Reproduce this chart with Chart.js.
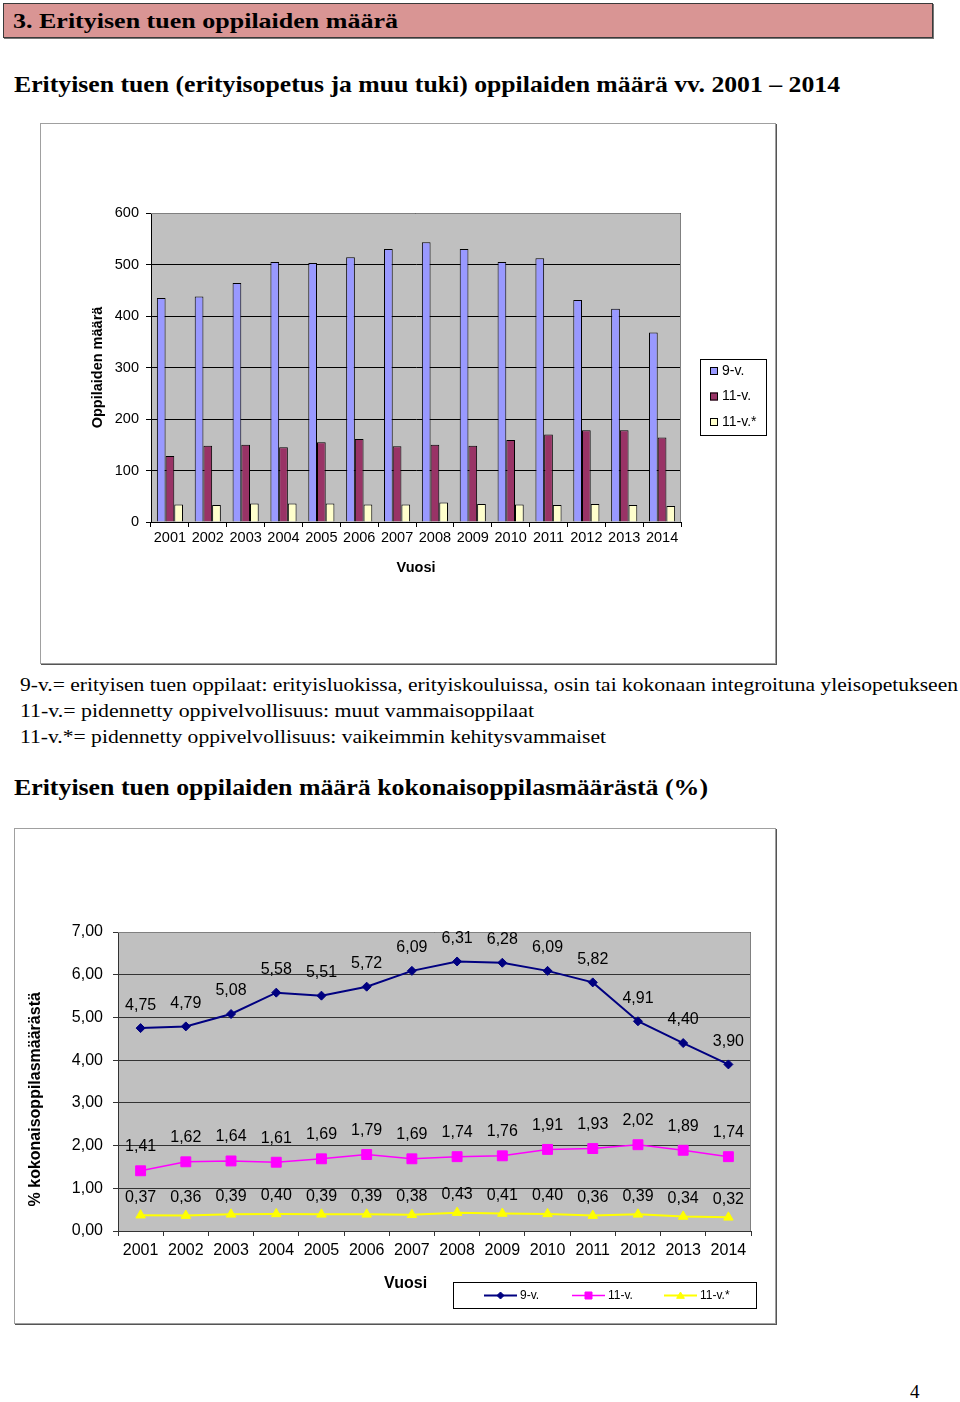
<!DOCTYPE html>
<html><head><meta charset="utf-8">
<script src="https://cdn.jsdelivr.net/npm/chart.js@4.4.1/dist/chart.umd.min.js"></script>
<style>
html,body{margin:0;padding:0;background:#fff;}
body{width:960px;height:1402px;position:relative;overflow:hidden;font-family:"Liberation Serif","DejaVu Serif",serif;color:#000;}
.t{position:absolute;white-space:nowrap;line-height:1.2;transform-origin:0 50%;}
#hdr{position:absolute;left:3px;top:3px;width:928px;height:33px;background:#d99594;border:1px solid #3a3a3a;box-shadow:1px 1px 0 #777;}
.box{position:absolute;background:#fff;border:1px solid #a0a0a0;box-shadow:1px 1px 0 #555;}
canvas{position:absolute;display:block;}
</style></head>
<body>
<div id="hdr"></div>
<div class="t" data-w="385" data-b="29.5" data-fs="21.5" style="left:13px;font-weight:bold">3. Erityisen tuen oppilaiden määrä</div>
<div class="t" data-w="826" data-b="92" data-fs="24" style="left:14px;font-weight:bold">Erityisen tuen (erityisopetus ja muu tuki) oppilaiden määrä vv. 2001 – 2014</div>

<div class="box" style="left:40px;top:123px;width:734px;height:539px;"></div>
<canvas id="c1" width="736" height="541" style="left:40px;top:123px;width:736px;height:541px;"></canvas>

<div class="t" data-w="938" data-b="691.5" data-fs="19" style="left:20px;">9-v.= erityisen tuen oppilaat: erityisluokissa, erityiskouluissa, osin tai kokonaan integroituna yleisopetukseen</div>
<div class="t" data-w="514" data-b="717.5" data-fs="19" style="left:20px;">11-v.= pidennetty oppivelvollisuus: muut vammaisoppilaat</div>
<div class="t" data-w="586" data-b="743.5" data-fs="19" style="left:20px;">11-v.*= pidennetty oppivelvollisuus: vaikeimmin kehitysvammaiset</div>
<div class="t" data-w="694" data-b="795" data-fs="24" style="left:14px;font-weight:bold">Erityisen tuen oppilaiden määrä kokonaisoppilasmäärästä (%)</div>

<div class="box" style="left:14px;top:828px;width:760px;height:494px;"></div>
<canvas id="c2" width="762" height="496" style="left:14px;top:828px;width:762px;height:496px;"></canvas>

<div class="t" data-b="1399" data-fs="19" style="left:910px;">4</div>

<script>
// ---------- DATA ----------
const years = ['2001','2002','2003','2004','2005','2006','2007','2008','2009','2010','2011','2012','2013','2014'];
const seriesNames = ['9-v.', '11-v.', '11-v.*'];
// Chart 1: number of pupils
const countV9   = [435, 438, 464, 505, 503, 514, 530, 543, 530, 505, 512, 431, 414, 368];
const countV11  = [128, 148, 150, 145, 155, 161, 147, 150, 148, 159, 170, 178, 178, 164];
const countV11s = [34, 33, 36, 36, 36, 34, 34, 38, 35, 34, 33, 35, 33, 31];
const countTicks = [0, 100, 200, 300, 400, 500, 600];
// Chart 2: % of all pupils
const pctV9   = [4.75, 4.79, 5.08, 5.58, 5.51, 5.72, 6.09, 6.31, 6.28, 6.09, 5.82, 4.91, 4.40, 3.90];
const pctV11  = [1.41, 1.62, 1.64, 1.61, 1.69, 1.79, 1.69, 1.74, 1.76, 1.91, 1.93, 2.02, 1.89, 1.74];
const pctV11s = [0.37, 0.36, 0.39, 0.40, 0.39, 0.39, 0.38, 0.43, 0.41, 0.40, 0.36, 0.39, 0.34, 0.32];
const pctTicks = [0, 1, 2, 3, 4, 5, 6, 7];

// ---------- text fitting (keep height, squeeze width) ----------
document.querySelectorAll('.t').forEach(el => {
  const fs = parseFloat(el.dataset.fs);
  el.style.fontSize = fs + 'px';
  const w = parseFloat(el.dataset.w || '0');
  if (w) {
    const cw = el.getBoundingClientRect().width;
    el.style.transform = 'scaleX(' + (w / cw) + ')';
  }
  el.style.top = (parseFloat(el.dataset.b) - 0.9375 * fs) + 'px';
});

const SANS = '"Liberation Sans", Arial, sans-serif';
const fmt = v => v.toFixed(2).replace('.', ',');

function marker(ctx, style, x, y, r, fill) {
  ctx.save();
  ctx.fillStyle = fill; ctx.strokeStyle = fill; ctx.lineWidth = 1;
  ctx.beginPath();
  if (style === 'rectRot') {
    ctx.moveTo(x - r, y); ctx.lineTo(x, y - r); ctx.lineTo(x + r, y); ctx.lineTo(x, y + r);
  } else if (style === 'rect') {
    ctx.rect(x - r, y - r, 2 * r, 2 * r);
  } else {
    ctx.moveTo(x, y - r); ctx.lineTo(x + r * 1.1, y + r * 0.8); ctx.lineTo(x - r * 1.1, y + r * 0.8);
  }
  ctx.closePath(); ctx.fill(); ctx.stroke();
  ctx.restore();
}

// ---------- plugins ----------
const plotBg = {
  id: 'plotBg',
  beforeDraw(chart, args, o) {
    const {ctx, chartArea: a} = chart;
    ctx.save();
    ctx.fillStyle = o.color;
    ctx.fillRect(a.left, a.top, a.right - a.left, a.bottom - a.top);
    ctx.restore();
  },
  beforeDatasetsDraw(chart, args, o) {
    const {ctx, chartArea: a} = chart;
    ctx.save();
    ctx.strokeStyle = o.edge; ctx.lineWidth = 1;
    ctx.beginPath();
    ctx.moveTo(a.left, a.top + 0.5); ctx.lineTo(a.right - 0.5, a.top + 0.5); ctx.lineTo(a.right - 0.5, a.bottom);
    ctx.stroke();
    ctx.restore();
  }
};

const boxLegend = {
  id: 'boxLegend',
  afterDraw(chart, args, o) {
    const ctx = chart.ctx;
    ctx.save();
    ctx.fillStyle = '#fff'; ctx.strokeStyle = '#000'; ctx.lineWidth = 1;
    ctx.fillRect(o.x, o.y, o.w, o.h);
    ctx.strokeRect(o.x + 0.5, o.y + 0.5, o.w - 1, o.h - 1);
    ctx.font = o.font; ctx.textBaseline = 'middle'; ctx.textAlign = 'left';
    chart.data.datasets.forEach((ds, i) => {
      if (o.kind === 'box') {
        const cy = o.y + o.first + i * o.step;
        ctx.fillStyle = ds.backgroundColor;
        ctx.fillRect(o.x + o.sx, cy - o.sq / 2, o.sq, o.sq);
        ctx.strokeStyle = '#000';
        ctx.strokeRect(o.x + o.sx + 0.5, cy - o.sq / 2 + 0.5, o.sq - 1, o.sq - 1);
        ctx.fillStyle = '#000';
        ctx.fillText(ds.label, o.x + o.tx, cy);
      } else {
        const cy = o.y + o.h / 2;
        const lx = o.starts[i];
        ctx.strokeStyle = ds.borderColor; ctx.lineWidth = ds.borderWidth;
        ctx.beginPath(); ctx.moveTo(lx, cy); ctx.lineTo(lx + o.len, cy); ctx.stroke();
        marker(ctx, ds.pointStyle, lx + o.len / 2, cy, o.mr, ds.borderColor);
        ctx.fillStyle = '#000';
        ctx.fillText(ds.label, lx + o.len + o.gap, cy);
      }
    });
    ctx.restore();
  }
};

const valueLabels = {
  id: 'valueLabels',
  afterDatasetsDraw(chart, args, o) {
    const ctx = chart.ctx;
    ctx.save();
    ctx.font = o.font; ctx.fillStyle = '#000';
    ctx.textAlign = 'center'; ctx.textBaseline = 'middle';
    chart.data.datasets.forEach((ds, i) => {
      chart.getDatasetMeta(i).data.forEach((pt, j) => {
        ctx.fillText(fmt(ds.data[j]), pt.x, pt.y - o.offsets[i]);
      });
    });
    ctx.restore();
  }
};

// ---------- Chart 1 ----------
new Chart(document.getElementById('c1'), {
  type: 'bar',
  data: {
    labels: years,
    datasets: [
      {label: seriesNames[0], data: countV9,  backgroundColor: '#9999ff', borderColor: '#000', borderWidth: 1},
      {label: seriesNames[1], data: countV11, backgroundColor: '#993366', borderColor: '#000', borderWidth: 1},
      {label: seriesNames[2], data: countV11s, backgroundColor: '#ffffcc', borderColor: '#000', borderWidth: 1}
    ]
  },
  options: {
    responsive: false, animation: false, devicePixelRatio: 1,
    layout: {padding: {left: 10, top: 90, right: 95, bottom: 10}},
    datasets: {bar: {categoryPercentage: 0.69, barPercentage: 1.0}},
    plugins: {
      legend: {display: false}, tooltip: {enabled: false},
      plotBg: {color: '#c0c0c0', edge: '#808080'},
      boxLegend: {kind: 'box', x: 660, y: 236, w: 67, h: 77, first: 12, step: 25.5, sx: 10, sq: 8, tx: 22,
                  font: '14px ' + SANS}
    },
    scales: {
      x: {
        grid: {display: true, drawOnChartArea: false, drawTicks: true, tickLength: 5, color: '#000', offset: true},
        border: {display: true, color: '#000'},
        ticks: {color: '#000', font: {family: SANS, size: 14.5}, padding: 2, autoSkip: false, maxRotation: 0},
        title: {display: true, text: 'Vuosi', color: '#000', font: {family: SANS, size: 14.5, weight: 'bold'},
                padding: {top: 0, bottom: 77}},
        afterFit(s) { s.height = 132; }
      },
      y: {
        min: 0, max: 600,
        afterBuildTicks(s) { s.ticks = countTicks.map(v => ({value: v})); },
        grid: {color: '#000', tickLength: 5, drawTicks: true},
        border: {display: true, color: '#000'},
        ticks: {color: '#000', font: {family: SANS, size: 14.5}, padding: 7},
        title: {display: true, text: 'Oppilaiden määrä', color: '#000', font: {family: SANS, size: 14.5, weight: 'bold'},
                padding: {top: 39, bottom: 0}},
        afterFit(s) { s.width = 101; }
      }
    }
  },
  plugins: [plotBg, boxLegend]
});

// ---------- Chart 2 ----------
const nb = n => '\u00a0'.repeat(n);
new Chart(document.getElementById('c2'), {
  type: 'line',
  data: {
    labels: years,
    datasets: [
      {label: seriesNames[0], data: pctV9, borderColor: '#000080', backgroundColor: '#000080', borderWidth: 2,
       pointStyle: 'rectRot', pointRadius: 4.5, pointBorderWidth: 1},
      {label: seriesNames[1], data: pctV11, borderColor: '#ff00ff', backgroundColor: '#ff00ff', borderWidth: 1.5,
       pointStyle: 'rect', pointRadius: 7, pointBorderWidth: 1},
      {label: seriesNames[2], data: pctV11s, borderColor: '#ffff00', backgroundColor: '#ffff00', borderWidth: 2,
       pointStyle: 'triangle', pointRadius: 5.5, pointBorderWidth: 1}
    ]
  },
  options: {
    responsive: false, animation: false, devicePixelRatio: 1,
    layout: {padding: {left: 10, top: 104, right: 25, bottom: 10}},
    elements: {line: {tension: 0}},
    plugins: {
      legend: {display: false}, tooltip: {enabled: false},
      plotBg: {color: '#c0c0c0', edge: '#808080'},
      valueLabels: {font: '16px ' + SANS, offsets: [23, 24, 18]},
      boxLegend: {kind: 'line', x: 439, y: 454, w: 304, h: 27, starts: [470, 558, 650], len: 33, gap: 3, mr: 3.5,
                  font: '12px ' + SANS}
    },
    scales: {
      x: {
        offset: true,
        grid: {display: true, drawOnChartArea: false, drawTicks: true, tickLength: 5, color: '#333', offset: true},
        border: {display: true, color: '#333'},
        ticks: {color: '#000', font: {family: SANS, size: 16}, padding: 5, autoSkip: false, maxRotation: 0},
        title: {display: true, text: 'Vuosi' + nb(13), color: '#000', font: {family: SANS, size: 16, weight: 'bold'},
                padding: {top: 0, bottom: 21}},
        afterFit(s) { s.height = 83; }
      },
      y: {
        min: 0, max: 7,
        afterBuildTicks(s) { s.ticks = pctTicks.map(v => ({value: v})); },
        grid: {color: '#333', tickLength: 5, drawTicks: true},
        border: {display: true, color: '#333'},
        ticks: {color: '#000', font: {family: SANS, size: 16}, padding: 10, callback: v => fmt(v)},
        title: {display: true, text: '% kokonaisoppilasmäärästä' + nb(8), color: '#000',
                font: {family: SANS, size: 16, weight: 'bold'}, padding: {top: 1.5, bottom: 0}},
        afterFit(s) { s.width = 94; }
      }
    }
  },
  plugins: [plotBg, valueLabels, boxLegend]
});
</script>
</body></html>
